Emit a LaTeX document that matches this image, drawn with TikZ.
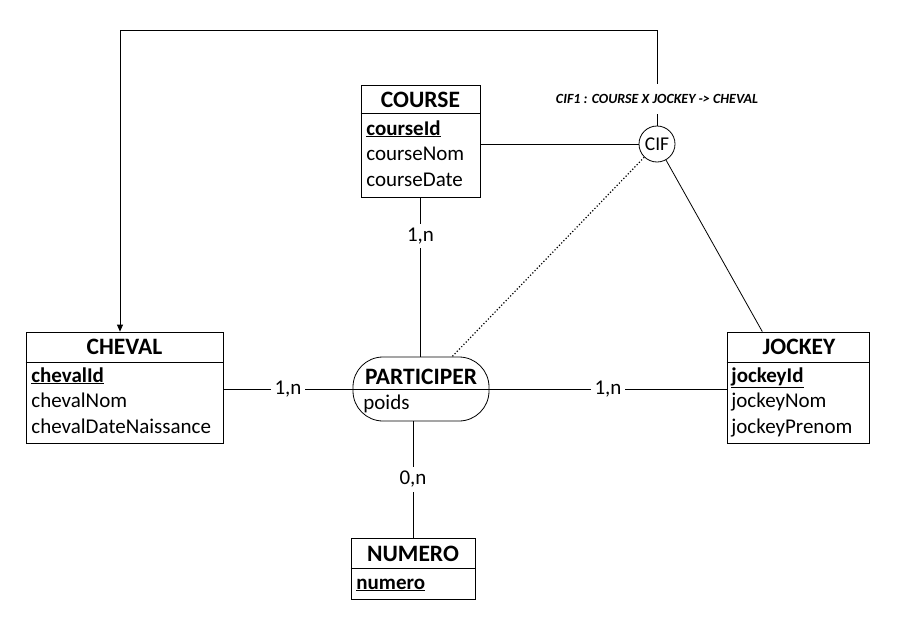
\documentclass[tikz,border=0pt]{standalone}
\usepackage{fontspec}
\setmainfont{Carlito}
\usetikzlibrary{calc,arrows.meta}

\begin{document}
\begin{tikzpicture}[x=1pt,y=-1pt,line width=0.8pt,
  entity/.style={draw,inner sep=0pt},
  enttitle/.style={font=\fontsize{23.5}{26}\selectfont\bfseries,anchor=base,inner sep=0pt},
  attr/.style={font=\fontsize{21}{24}\selectfont,anchor=base west,inner sep=0pt},
  card/.style={font=\fontsize{21}{24}\selectfont,fill=white,inner sep=4pt}]

\useasboundingbox (0,0) rectangle (900,624);

% entities
\node[entity,minimum width=119pt,minimum height=112pt] (course) at (420.5,141) {};
\node[enttitle] (coursetitle) at (420.5,107) {COURSE};
\draw (course.west |- 0,113) -- (course.east |- 0,113);
\node[attr] (course-0) at (366,135) {\underline{\textbf{courseId}}};
\foreach \a [count=\i] in {courseNom,courseDate}
    \node[attr] (course-\i) at (366,135+\i*25.5) {\a};

\node[entity,minimum width=197pt,minimum height=111pt] (cheval) at (124.5,387.5) {};
\node[enttitle] (chevaltitle) at (124.5,354) {CHEVAL};
\draw (cheval.west |- 0,362) -- (cheval.east |- 0,362);
\node[attr] (cheval-0) at (31,382) {\underline{\textbf{chevalId}}};
\foreach \a [count=\i] in {chevalNom,chevalDateNaissance}
    \node[attr] (cheval-\i) at (31,382+\i*25.5) {\a};

\node[entity,minimum width=142pt,minimum height=111pt] (jockey) at (798,387.5) {};
\node[enttitle] (jockeytitle) at (799,354) {JOCKEY};
\draw (jockey.west |- 0,362) -- (jockey.east |- 0,362);
\node[attr] (jockey-0) at (731,382) {\underline{\textbf{jockeyId}}};
\foreach \a [count=\i] in {jockeyNom,jockeyPrenom}
    \node[attr] (jockey-\i) at (731,382+\i*25.5) {\a};

\node[entity,minimum width=124pt,minimum height=61pt] (numero) at (413,568.5) {};
\node[enttitle] (numerotitle) at (413,561) {NUMERO};
\draw (numero.west |- 0,568) -- (numero.east |- 0,568);
\node[attr] (numero-0) at (356,589) {\underline{\textbf{numero}}};

% association
\node[entity,rounded corners=30pt,minimum width=136pt,minimum height=64pt] (participer) at (421,389) {};
\node[enttitle] (participertitle) at (421,384) {PARTICIPER};
\draw (participer.west) -- (participer.east);
\node[attr] (participer-0) at (363,409) {poids};

% CIF
\node[draw,circle,minimum size=36pt,inner sep=0pt,font=\fontsize{19.5}{22}\selectfont] (cif) at (657,144) {CIF};
\node[font=\fontsize{14}{16}\selectfont\bfseries\itshape,minimum height=30pt,inner sep=1pt] (cifnote) at (657,99) {CIF1 : COURSE X JOCKEY -> CHEVAL};
\coordinate (corner) at (120,30);

\draw (cif) -- (cif -| course.east);
\draw (cif) -- ($(jockey.north west)!0.25!(jockey.north east)$);
\draw[dotted,line width=1.2pt] (cif) -- (participer);
\draw (cif) -- (cifnote);
\draw[-{Triangle[width=6pt,length=7pt]}] (cifnote) |- (corner) -- (corner |- cheval.north);

% cardinalities
\draw (course.south) -- (course.south |- participer.north) node[card,pos=0.24] (card-course) {1,n};
\draw (cheval.east |- participer) -- (participer.west) node[card,midway] (card-cheval) {1,n};
\draw (participer.east) -- (jockey.west |- participer) node[card,midway] (card-jockey) {1,n};
\draw (numero.north |- participer.south) -- (numero.north) node[card,midway] (card-numero) {0,n};

\end{tikzpicture}
\end{document}
